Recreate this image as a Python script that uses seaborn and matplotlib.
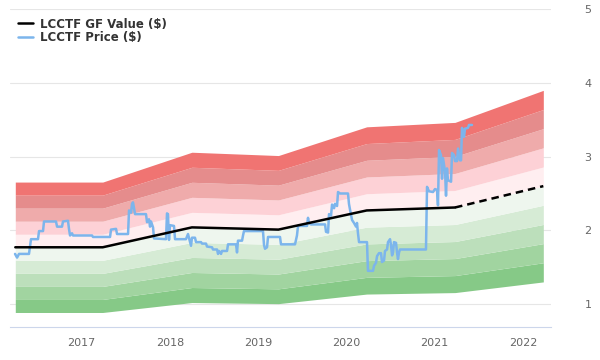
import matplotlib

matplotlib.use("Agg")
import matplotlib.pyplot as plt
import numpy as np
import seaborn as sns
from matplotlib.lines import Line2D

# GF Value (last segment is the projection, drawn dashed)
gf_years = [2016.25, 2017.24, 2018.25, 2019.23, 2020.23, 2021.23, 2022.23]
gf_values = [1.77, 1.77, 2.04, 2.01, 2.27, 2.31, 2.60]

# band multiples of GF Value, bottom to top, and their fills
band_levels = [0.5, 0.6, 0.7, 0.8, 0.9, 1.0, 1.1, 1.2, 1.3, 1.4, 1.5]
band_colors = [
    "#86c987", "#a1d4a0", "#bcdfbb", "#d6ebd5", "#eef6ee",
    "#ffeef0", "#fdd1d6", "#efabab", "#e58c8c", "#f07472",
]

# price (decimal year, $)
price_years = [
    2016.247, 2016.270, 2016.292, 2016.405, 2016.428, 2016.507, 2016.519, 2016.564,
    2016.575, 2016.711, 2016.723, 2016.779, 2016.790, 2016.847, 2016.858, 2016.870,
    2016.892, 2016.904, 2017.119, 2017.130, 2017.323, 2017.334, 2017.391, 2017.402,
    2017.527, 2017.538, 2017.561, 2017.572, 2017.583, 2017.606, 2017.730, 2017.742,
    2017.764, 2017.776, 2017.787, 2017.810, 2017.821, 2017.957, 2017.968, 2017.979,
    2017.991, 2018.002, 2018.047, 2018.059, 2018.183, 2018.206, 2018.240, 2018.251,
    2018.285, 2018.297, 2018.353, 2018.365, 2018.410, 2018.421, 2018.478, 2018.489,
    2018.535, 2018.546, 2018.557, 2018.580, 2018.591, 2018.648, 2018.659, 2018.750,
    2018.761, 2018.772, 2018.818, 2018.829, 2018.840, 2019.055, 2019.067, 2019.078,
    2019.101, 2019.112, 2019.248, 2019.259, 2019.418, 2019.440, 2019.452, 2019.554,
    2019.565, 2019.576, 2019.599, 2019.758, 2019.769, 2019.792, 2019.803, 2019.826,
    2019.837, 2019.860, 2019.871, 2019.894, 2019.905, 2019.928, 2020.018, 2020.029,
    2020.041, 2020.064, 2020.086, 2020.109, 2020.120, 2020.131, 2020.143, 2020.233,
    2020.244, 2020.301, 2020.313, 2020.335, 2020.347, 2020.369, 2020.392, 2020.403,
    2020.426, 2020.437, 2020.460, 2020.471, 2020.494, 2020.505, 2020.517, 2020.528,
    2020.539, 2020.562, 2020.573, 2020.584, 2020.596, 2020.607, 2020.901, 2020.913,
    2020.935, 2020.981, 2021.003, 2021.026, 2021.037, 2021.049, 2021.071, 2021.083,
    2021.094, 2021.117, 2021.128, 2021.139, 2021.150, 2021.185, 2021.196, 2021.219,
    2021.230, 2021.253, 2021.264, 2021.286, 2021.298, 2021.309, 2021.332, 2021.343,
    2021.377, 2021.388, 2021.422,
]
price_values = [
    1.68, 1.63, 1.68, 1.68, 1.88, 1.88, 1.99, 1.99,
    2.12, 2.12, 2.05, 2.05, 2.12, 2.13, 2.02, 1.93,
    1.96, 1.93, 1.93, 1.91, 1.91, 2.01, 2.02, 1.95,
    1.95, 2.27, 2.24, 2.36, 2.38, 2.22, 2.22, 2.11,
    2.15, 2.05, 2.12, 2.04, 1.89, 1.88, 2.23, 2.22,
    1.87, 2.07, 2.06, 1.88, 1.88, 1.95, 1.79, 1.90,
    1.90, 1.84, 1.84, 1.82, 1.82, 1.78, 1.77, 1.74,
    1.74, 1.68, 1.72, 1.68, 1.72, 1.72, 1.81, 1.81,
    1.70, 1.86, 1.86, 1.93, 1.99, 1.99, 1.80, 1.75,
    1.77, 1.91, 1.91, 1.81, 1.81, 1.93, 2.06, 2.06,
    2.17, 2.10, 2.08, 2.08, 1.98, 1.97, 2.22, 2.20,
    2.35, 2.30, 2.36, 2.33, 2.52, 2.50, 2.50, 2.36,
    2.28, 2.14, 2.10, 2.05, 2.10, 1.96, 1.84, 1.84,
    1.45, 1.45, 1.52, 1.56, 1.65, 1.69, 1.69, 1.57,
    1.59, 1.72, 1.74, 1.84, 1.88, 1.80, 1.66, 1.70,
    1.84, 1.83, 1.70, 1.61, 1.70, 1.74, 1.74, 2.59,
    2.53, 2.52, 2.56, 2.55, 2.34, 3.09, 3.02, 2.70,
    2.98, 2.80, 2.47, 2.84, 2.68, 2.66, 3.05, 3.02,
    2.94, 2.94, 3.11, 2.95, 2.95, 3.39, 3.27, 3.38,
    3.39, 3.43, 3.43,
]

year_ticks = [2017, 2018, 2019, 2020, 2021, 2022]
value_ticks = [1, 2, 3, 4, 5]

PRICE_COLOR = "#7cb5ec"
TEXT_COLOR = "#666666"

sns.set_style("white")
plt.rcParams["font.family"] = ["DejaVu Sans"]

fig = plt.figure(figsize=(6, 3.6), dpi=100)
ax = fig.add_axes([10 / 600, 33 / 360, 541 / 600, 317.7 / 360])

gf = np.array(gf_values)
for lo, hi, color in zip(band_levels[:-1], band_levels[1:], band_colors):
    ax.fill_between(gf_years, gf * lo, gf * hi, color=color, lw=0, zorder=1)

sns.lineplot(x=price_years, y=price_values, ax=ax, color=PRICE_COLOR, lw=1.8,
             estimator=None, sort=False, zorder=3)
sns.lineplot(x=gf_years[:-1], y=gf_values[:-1], ax=ax, color="black", lw=1.8,
             estimator=None, sort=False, zorder=4)
sns.lineplot(x=gf_years[-2:], y=gf_values[-2:], ax=ax, color="black", lw=1.8,
             linestyle=(0, (3, 2)), estimator=None, sort=False, zorder=4)

ax.set_xlim(2016.19, 2022.317)
ax.set_ylim(0.688, 5.0)
ax.set_xticks(year_ticks)
ax.set_xticklabels([str(y) for y in year_ticks])
ax.set_yticks(value_ticks)
ax.set_yticklabels([str(v) for v in value_ticks])
ax.yaxis.tick_right()
ax.tick_params(axis="y", length=0, pad=24, labelsize=8, labelcolor=TEXT_COLOR)
ax.tick_params(axis="x", length=4.3, width=0.8, color="#ccd6eb", pad=3.5,
               labelsize=8, labelcolor=TEXT_COLOR)
ax.yaxis.grid(True, color="#e6e6e6", lw=0.8)
ax.set_axisbelow(True)
for side in ("top", "left", "right"):
    ax.spines[side].set_visible(False)
ax.spines["bottom"].set_color("#ccd6eb")
ax.spines["bottom"].set_linewidth(0.8)
ax.set_xlabel("")
ax.set_ylabel("")

handles = [
    Line2D([0], [0], color="black", lw=1.8),
    Line2D([0], [0], color=PRICE_COLOR, lw=1.8),
]
ax.legend(handles, ["LCCTF GF Value ($)", "LCCTF Price ($)"], loc="upper left",
          bbox_to_anchor=(0.0148, 0.974), frameon=False, borderaxespad=0,
          borderpad=0, handlelength=1.25, handletextpad=0.6, labelspacing=0.05,
          prop={"weight": "bold", "size": 8.5}, labelcolor="#333333")

fig.savefig("out.png", dpi=100)
